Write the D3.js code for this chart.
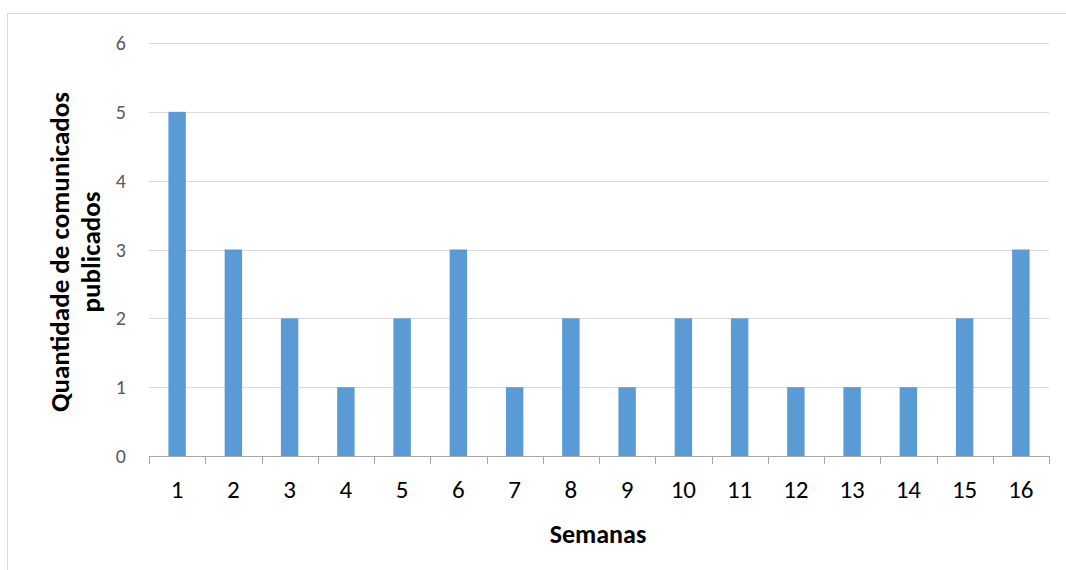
<!DOCTYPE html>
<html><head><meta charset="utf-8">
<script src="https://cdn.jsdelivr.net/npm/d3@7"></script>
<style>body{margin:0;background:#fff;} svg{display:block;}</style>
</head><body>
<svg id="c" width="1066" height="570"></svg>
<script>
const categories = ["1","2","3","4","5","6","7","8","9","10","11","12","13","14","15","16"];
const values = [5,3,2,1,2,3,1,2,1,2,2,1,1,1,2,3];
const yTicks = [0,1,2,3,4,5,6];
const xTitle = "Semanas";
const yTitleLines = ["Quantidade de comunicados","publicados"];

(function(){
const svg = d3.select("#c");
const font = "Carlito, Lato, sans-serif";
svg.append("rect").attr("x",7.5).attr("y",13.5).attr("width",1100).attr("height",600)
  .attr("fill","none").attr("stroke","#d9d9d9").attr("stroke-width",1);

const pL=149, pR=1049, pT=43, pB=456;
const x = d3.scaleBand().domain(categories).range([pL,pR]).paddingInner(0.69).paddingOuter(0.345);
const xb = d3.scaleBand().domain(categories).range([pL,pR]);
const y = d3.scaleLinear().domain([0,6]).range([pB,pT]);

svg.append("g").selectAll("line").data(yTicks.filter(d=>d>0)).join("line")
  .attr("x1",pL).attr("x2",pR).attr("y1",d=>Math.round(y(d))+0.5).attr("y2",d=>Math.round(y(d))+0.5)
  .attr("stroke","#d9d9d9").attr("stroke-width",1);

svg.append("g").selectAll("rect").data(values).join("rect")
  .attr("x",(d,i)=>x(categories[i])).attr("width",x.bandwidth())
  .attr("y",d=>y(d)).attr("height",d=>pB-y(d)).attr("fill","#5b9bd5");

const ax = svg.append("g");
ax.append("line").attr("x1",pL).attr("x2",pR).attr("y1",pB+0.5).attr("y2",pB+0.5).attr("stroke","#a6a6a6");
const bounds = categories.map(c=>xb(c)).concat([pR]);
ax.selectAll("line.t").data(bounds).join("line").attr("class","t")
  .attr("x1",d=>Math.round(d)+0.5).attr("x2",d=>Math.round(d)+0.5).attr("y1",pB).attr("y2",pB+8).attr("stroke","#a6a6a6");
ax.selectAll("text").data(categories).join("text")
  .attr("x",d=>xb(d)+xb.bandwidth()/2).attr("y",498)
  .attr("text-anchor","middle").attr("font-family",font).attr("font-size",25).attr("fill","#000").text(d=>d);

svg.append("g").selectAll("text").data(yTicks).join("text")
  .attr("x",126).attr("y",d=>y(d)+7).attr("text-anchor","end")
  .attr("font-family",font).attr("font-size",20).attr("fill","#595959").text(d=>d);

svg.append("text").attr("x",598).attr("y",543).attr("text-anchor","middle")
  .attr("font-family",font).attr("font-size",26).attr("font-weight","bold").attr("fill","#000").text(xTitle);

const yt = svg.append("text").attr("transform","translate(0,252) rotate(-90)")
  .attr("text-anchor","middle").attr("font-family",font).attr("font-size",27).attr("font-weight","bold").attr("fill","#000");
yt.selectAll("tspan").data(yTitleLines).join("tspan").attr("x",0).attr("y",(d,i)=>69+i*31).text(d=>d);
})();
</script>
</body></html>
